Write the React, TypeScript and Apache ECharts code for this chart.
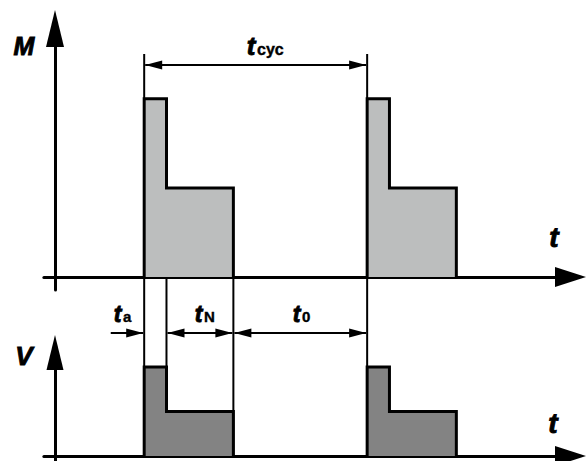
import React, { useEffect, useRef } from 'react';
import * as echarts from 'echarts';

// ---- data (schematic time units) ----
const cycleStarts = [4, 14];            // start time of each load cycle
const phaseSubscripts = ['a', 'N', '0']; // t_a, t_N, t_0
const phaseDurations = [1, 3, 6];       // durations of t_a, t_N, t_0
const torqueLevels = [2, 1, 0];         // M during t_a, t_N, t_0
const lossLevels = [2, 1, 0];           // V during t_a, t_N, t_0
const axisNames = ['M', 'V'];
const timeName = 't';
const cycleSubscript = 'cyc';

// ---- layout constants ----
const X_MIN = -0.5;
const X_MAX = 23.12;
const FONT = '"Liberation Sans", Arial, Helvetica, sans-serif';

function pulse(start: number, levels: number[]) {
  const ta = phaseDurations[0];
  const tN = phaseDurations[1];
  return [
    [start, 0],
    [start, levels[0]],
    [start + ta, levels[0]],
    [start + ta, levels[1]],
    [start + ta + tN, levels[1]],
    [start + ta + tN, 0],
  ];
}

export default function App() {
  const ref = useRef<HTMLDivElement>(null);

  useEffect(() => {
    if (!ref.current) return;
    const chart = echarts.init(ref.current, null, { renderer: 'svg' });

    const xAxisBase = (gridIndex: number) => ({
      type: 'value',
      gridIndex,
      min: X_MIN,
      max: X_MAX,
      axisLine: {
        show: true,
        onZero: true,
        symbol: ['none', 'triangle'],
        symbolSize: [20, 31],
        lineStyle: { color: '#000', width: 3 },
      },
      axisTick: { show: false },
      axisLabel: { show: false },
      splitLine: { show: false },
    });
    const yAxisBase = (gridIndex: number, min: number, max: number, size: number[]) => ({
      type: 'value',
      gridIndex,
      min,
      max,
      axisLine: {
        show: true,
        onZero: true,
        symbol: ['none', 'triangle'],
        symbolSize: size,
        lineStyle: { color: '#000', width: 3 },
      },
      axisTick: { show: false },
      axisLabel: { show: false },
      splitLine: { show: false },
    });

    const series: any[] = [];
    cycleStarts.forEach((s) => {
      series.push({
        type: 'line',
        xAxisIndex: 0,
        yAxisIndex: 0,
        data: pulse(s, torqueLevels),
        symbol: 'none',
        lineStyle: { color: '#000', width: 3, join: 'miter' },
        areaStyle: { color: '#bcbebe', opacity: 1 },
        z: 3,
      });
      series.push({
        type: 'line',
        xAxisIndex: 1,
        yAxisIndex: 1,
        data: pulse(s, lossLevels),
        symbol: 'none',
        lineStyle: { color: '#000', width: 3, join: 'miter' },
        areaStyle: { color: '#838383', opacity: 1 },
        z: 3,
      });
    });

    chart.setOption({
      animation: false,
      backgroundColor: '#fff',
      grid: [
        { left: 43.85, top: 28.5, width: 526.65, height: 261.5 },
        { left: 43.85, top: 352.5, width: 526.65, height: 108.4 },
      ],
      xAxis: [xAxisBase(0), xAxisBase(1)],
      yAxis: [
        yAxisBase(0, -0.146, 2.79, [18, 37]),
        yAxisBase(1, -0.11, 2.326, [17, 35]),
      ],
      series,
    });

    const px0 = (x: number, y: number) => chart.convertToPixel({ gridIndex: 0 }, [x, y]) as number[];
    const px1 = (x: number, y: number) => chart.convertToPixel({ gridIndex: 1 }, [x, y]) as number[];

    const ta = phaseDurations[0];
    const tN = phaseDurations[1];
    const c0 = cycleStarts[0];
    const c1 = cycleStarts[1];

    const xs = {
      start: px0(c0, 0)[0],
      step: px0(c0 + ta, 0)[0],
      end: px0(c0 + ta + tN, 0)[0],
      next: px0(c1, 0)[0],
      taTail: px0(c0 - 1.5 * ta, 0)[0],
    };
    const mBase = px0(0, 0)[1];
    const vBase = px1(0, 0)[1];
    const vPeak = px1(0, lossLevels[0])[1];
    const guideTop = 54;
    const cycY = 65;
    const dimY = 333;

    const els: any[] = [];
    const guide = (x: number, y1: number, y2: number) =>
      els.push({ type: 'line', z: 1, shape: { x1: x, y1, x2: x, y2 }, style: { stroke: '#000', lineWidth: 2 } });
    guide(xs.start, guideTop, vBase);
    guide(xs.next, guideTop, vPeak);
    guide(xs.step, mBase, vBase);
    guide(xs.end, mBase, vBase);

    const dimLine = (x1: number, x2: number, y: number) =>
      els.push({ type: 'line', z: 5, shape: { x1, y1: y, x2, y2: y }, style: { stroke: '#000', lineWidth: 2 } });
    const head = (tipX: number, y: number, dir: number) =>
      els.push({
        type: 'polygon',
        z: 6,
        shape: { points: [[tipX, y], [tipX + dir * 17, y - 4.5], [tipX + dir * 17, y + 4.5]] },
        style: { fill: '#000' },
      });

    // t_cyc
    dimLine(xs.start + 1, xs.next - 1, cycY);
    head(xs.start + 1, cycY, 1);
    head(xs.next - 1, cycY, -1);
    // t_a
    dimLine(xs.taTail, xs.start - 1, dimY);
    head(xs.start - 1, dimY, -1);
    // t_N
    dimLine(xs.step + 1, xs.end - 1, dimY);
    head(xs.step + 1, dimY, 1);
    head(xs.end - 1, dimY, -1);
    // t_0
    dimLine(xs.end + 1, xs.next - 1, dimY);
    head(xs.end + 1, dimY, 1);
    head(xs.next - 1, dimY, -1);

    const txt = (text: string, x: number, baseline: number, size: number, italic: boolean, align = 'center') =>
      els.push({
        type: 'text',
        z: 10,
        x,
        y: baseline - 0.3465 * size,
        style: {
          text,
          fill: '#000',
          font: `${italic ? 'italic ' : ''}bold ${size}px ${FONT}`,
          align,
          verticalAlign: 'middle',
          stroke: '#000',
          lineWidth: italic ? 0.9 : 0.4,
        },
      });

    // axis names
    txt(axisNames[0], 24, 55, 25, true);
    txt(axisNames[1], 24, 365, 26, true);
    txt(timeName, 554, 247, 28, true);
    txt(timeName, 553, 433, 28, true);

    // t_cyc label
    txt(timeName, 251, 55, 26, true);
    txt(cycleSubscript, 257, 55, 16, false, 'left');

    // phase labels
    const phaseCenters = [117.5, 198.5, 296.5];
    phaseSubscripts.forEach((sub, i) => {
      txt(timeName, phaseCenters[i], 322, 23, true);
      txt(sub, phaseCenters[i] + 5.5, 322, 15, false, 'left');
    });

    chart.setOption({ graphic: { elements: els } });

    return () => chart.dispose();
  }, []);

  return (
    <div
      ref={ref}
      style={{ position: 'absolute', left: 0, top: 0, width: 586, height: 461, background: '#fff' }}
    />
  );
}
